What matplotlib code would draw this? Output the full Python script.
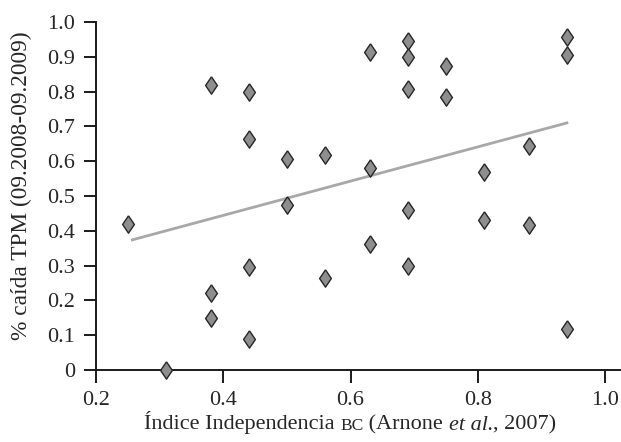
import matplotlib
matplotlib.use("Agg")
import matplotlib.pyplot as plt
from matplotlib.offsetbox import TextArea, HPacker, AnchoredOffsetbox
import numpy as np

# Data
indice_bc = [0.25, 0.31, 0.38, 0.38, 0.38, 0.44, 0.44, 0.44, 0.44,
             0.50, 0.50, 0.56, 0.56, 0.63, 0.63, 0.63,
             0.69, 0.69, 0.69, 0.69, 0.69, 0.75, 0.75,
             0.81, 0.81, 0.88, 0.88, 0.94, 0.94, 0.94]
caida_tpm = [0.42, 0.00, 0.82, 0.22, 0.15, 0.80, 0.665, 0.295, 0.09,
             0.605, 0.475, 0.618, 0.265, 0.915, 0.58, 0.363,
             0.945, 0.90, 0.807, 0.46, 0.298, 0.875, 0.785,
             0.568, 0.43, 0.643, 0.418, 0.957, 0.905, 0.117]
trend_x = [0.257, 0.940]
trend_y = [0.374, 0.710]
x_ticks = [0.2, 0.4, 0.6, 0.8, 1.0]
y_ticks = [0.0, 0.1, 0.2, 0.3, 0.4, 0.5, 0.6, 0.7, 0.8, 0.9, 1.0]
y_tick_labels = ["0", "0.1", "0.2", "0.3", "0.4", "0.5", "0.6", "0.7", "0.8", "0.9", "1.0"]

serif = "Liberation Serif"
plt.rcParams["font.family"] = serif
txt_color = "#262626"

fig = plt.figure(figsize=(6.21, 4.42), dpi=100)
ax = fig.add_axes([96/621, 72/442, 1 - 96/621, (370-22)/442])

ax.plot(trend_x, trend_y, color="#a8a8a8", lw=2.0, zorder=1)
diamond = [(0, 1), (0.68, 0), (0, -1), (-0.68, 0), (0, 1)]
ax.scatter(indice_bc, caida_tpm, marker=diamond, s=12.5**2, facecolor="#8e8e8e",
           edgecolor="#262626", linewidths=1.0, zorder=3, clip_on=False)

ax.set_xlim(0.2, 1.025)
ax.set_ylim(0, 1.0)
ax.set_xticks(x_ticks)
ax.set_xticklabels([f"{v:.1f}" for v in x_ticks])
ax.set_yticks(y_ticks)
ax.set_yticklabels(y_tick_labels)
for s in ["top", "right"]:
    ax.spines[s].set_visible(False)
for s in ["left", "bottom"]:
    ax.spines[s].set_linewidth(1.4)
    ax.spines[s].set_color("#1a1a1a")
ax.tick_params(direction="out", length=9, width=1.4, color="#1a1a1a",
               labelsize=16, pad=6, labelcolor=txt_color)

# y label
fig.text(21/621, 1 - 186/442, "% caída TPM (09.2008-09.2009)", rotation=90,
         ha="center", va="center", fontsize=16.8, color=txt_color)

# x label with small caps and italics
fs = 16
parts = [
    TextArea("Índice Independencia ", textprops=dict(fontsize=fs, color=txt_color, family=serif)),
    TextArea("BC", textprops=dict(fontsize=fs*0.78, color=txt_color, family=serif)),
    TextArea(" (Arnone ", textprops=dict(fontsize=fs, color=txt_color, family=serif)),
    TextArea("et al.", textprops=dict(fontsize=fs, color=txt_color, family=serif, style="italic")),
    TextArea(", 2007)", textprops=dict(fontsize=fs, color=txt_color, family=serif)),
]
box = HPacker(children=parts, align="baseline", pad=0, sep=0)
anch = AnchoredOffsetbox(loc="center", child=box, frameon=False, pad=0, borderpad=0,
                         bbox_to_anchor=(350/621, 1 - 423/442),
                         bbox_transform=fig.transFigure)
fig.add_artist(anch)

fig.savefig("out.png", dpi=100)
